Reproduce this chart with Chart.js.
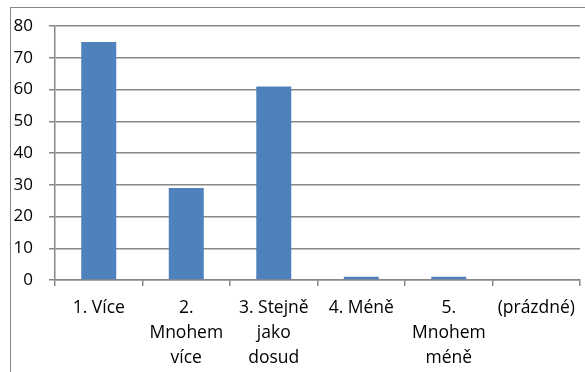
<!DOCTYPE html>
<html>
<head>
<meta charset="utf-8">
<script src="https://cdn.jsdelivr.net/npm/chart.js@4"></script>
<style>
  html, body { margin: 0; padding: 0; background: #fff; overflow: hidden; width: 585px; height: 372px; }
  #frame { position: absolute; left: 10px; top: 7px; width: 620px; height: 420px; border: 1px solid #868686; box-sizing: border-box; }
  #wrap { position: absolute; left: 0; top: 0; width: 585px; height: 372px; }
</style>
</head>
<body>
<div id="frame"></div>
<div id="wrap"><canvas id="c" width="585" height="372"></canvas></div>
<script>
const categories = [
  ['1. Více'],
  ['2.', 'Mnohem', 'více'],
  ['3. Stejně', 'jako', 'dosud'],
  ['4. Méně'],
  ['5.', 'Mnohem', 'méně'],
  ['(prázdné)']
];
const values = [75, 29, 61, 1, 1, 0];
const yTicks = [0, 10, 20, 30, 40, 50, 60, 70, 80];

const gridGray = '#888888';
const fontFamily = '"Open Sans", "Liberation Sans", sans-serif';

new Chart(document.getElementById('c'), {
  type: 'bar',
  data: {
    labels: categories,
    datasets: [{
      data: values,
      backgroundColor: '#4F81BD',
      borderWidth: 0,
      categoryPercentage: 1.0,
      barPercentage: 0.4
    }]
  },
  options: {
    responsive: false,
    animation: false,
    events: [],
    layout: { padding: { top: 23, left: 0, right: 0, bottom: 0 } },
    plugins: { legend: { display: false }, tooltip: { enabled: false } },
    scales: {
      x: {
        offset: true,
        grid: { display: true, drawOnChartArea: false, drawTicks: true, tickLength: 6, color: gridGray, lineWidth: 1.5, offset: true },
        border: { display: true, color: gridGray, width: 1.5 },
        ticks: {
          color: '#000',
          font: { family: fontFamily, size: 17.5, lineHeight: '25px' },
          padding: 10,
          maxRotation: 0,
          autoSkip: false
        },
        afterFit: (s) => { s.height = 372 - 280; }
      },
      y: {
        min: 0,
        max: 80,
        afterBuildTicks: (s) => { s.ticks = yTicks.map(v => ({ value: v })); },
        grid: { color: gridGray, lineWidth: 1.5, drawTicks: true, tickLength: 6 },
        border: { display: true, color: gridGray, width: 1.5 },
        ticks: {
          color: '#000',
          font: { family: fontFamily, size: 17 },
          padding: 16
        },
        afterFit: (s) => { s.width = 55; }
      }
    }
  }
});
</script>
</body>
</html>
